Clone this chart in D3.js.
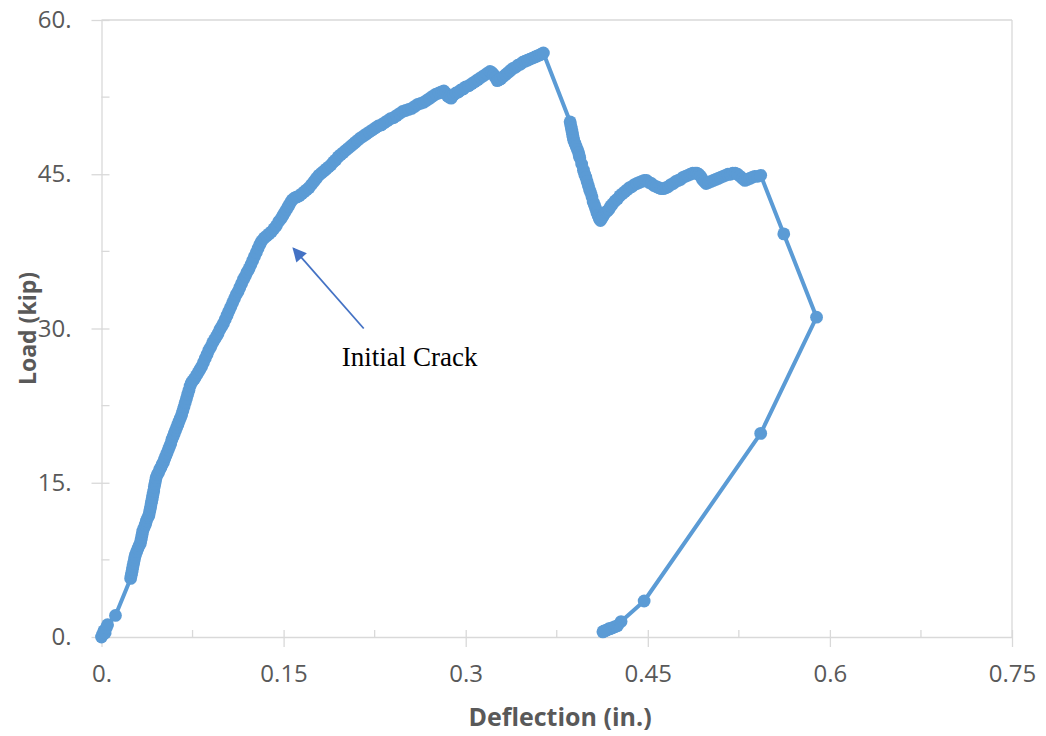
<!DOCTYPE html>
<html>
<head>
<meta charset="utf-8">
<script src="https://cdn.jsdelivr.net/npm/d3@7"></script>
<style>
  html, body { margin: 0; padding: 0; background: #ffffff; }
  svg { display: block; }
</style>
</head>
<body>
<svg id="chart" width="1046" height="736"></svg>
<script>
// Load-deflection test record: deflection (in.) and load (kip)
const deflection = [
  0, 0.001, 0.002, 0.003, 0.004, 0.005, 0.0115, 0.024, 0.0245, 0.025,
  0.0255, 0.026, 0.0265, 0.027, 0.0275, 0.028, 0.029, 0.030, 0.031, 0.032,
  0.0325, 0.033, 0.0335, 0.034, 0.035, 0.036, 0.0365, 0.037, 0.038, 0.039,
  0.0395, 0.040, 0.0405, 0.041, 0.0415, 0.042, 0.0425, 0.043, 0.0435, 0.044,
  0.0445, 0.045, 0.046, 0.047, 0.048, 0.049, 0.050, 0.051, 0.052, 0.053,
  0.054, 0.055, 0.056, 0.057, 0.058, 0.059, 0.060, 0.061, 0.062, 0.063,
  0.064, 0.065, 0.066, 0.067, 0.068, 0.069, 0.070, 0.071, 0.072, 0.073,
  0.074, 0.075, 0.0765, 0.078, 0.0795, 0.081, 0.0825, 0.084, 0.0855, 0.087,
  0.0885, 0.090, 0.0915, 0.093, 0.0945, 0.096, 0.0975, 0.099, 0.1005, 0.102,
  0.1035, 0.105, 0.1065, 0.108, 0.1095, 0.111, 0.1125, 0.114, 0.1155, 0.117,
  0.1185, 0.120, 0.1215, 0.123, 0.1245, 0.126, 0.1275, 0.129, 0.1305, 0.132,
  0.134, 0.136, 0.138, 0.140, 0.142, 0.144, 0.146, 0.148, 0.1495, 0.151,
  0.1525, 0.154, 0.1555, 0.157, 0.159, 0.161, 0.163, 0.165, 0.167, 0.169,
  0.171, 0.173, 0.175, 0.177, 0.179, 0.181, 0.183, 0.185, 0.187, 0.189,
  0.191, 0.193, 0.195, 0.197, 0.199, 0.201, 0.203, 0.205, 0.207, 0.209,
  0.211, 0.213, 0.2155, 0.218, 0.2205, 0.223, 0.2255, 0.228, 0.2305, 0.233,
  0.2355, 0.238, 0.2405, 0.243, 0.2455, 0.248, 0.2505, 0.253, 0.2555, 0.258,
  0.2605, 0.263, 0.2655, 0.268, 0.2705, 0.273, 0.2755, 0.278, 0.280, 0.282,
  0.2835, 0.285, 0.2865, 0.288, 0.290, 0.292, 0.294, 0.296, 0.298, 0.300,
  0.3025, 0.305, 0.3075, 0.310, 0.3125, 0.315, 0.3175, 0.320, 0.3215, 0.323,
  0.3245, 0.326, 0.3275, 0.329, 0.331, 0.333, 0.335, 0.337, 0.339, 0.341,
  0.343, 0.345, 0.347, 0.349, 0.351, 0.353, 0.355, 0.357, 0.359, 0.361,
  0.3625, 0.364,
  0.386, 0.3865, 0.387, 0.3875, 0.388, 0.3885, 0.389, 0.390, 0.391, 0.392,
  0.393, 0.3935, 0.394, 0.3955, 0.397, 0.398, 0.399, 0.400, 0.401, 0.402,
  0.403, 0.404, 0.405, 0.406, 0.407, 0.408, 0.409, 0.410, 0.411, 0.412,
  0.413, 0.414, 0.415, 0.4165, 0.418, 0.4195, 0.421, 0.423, 0.425, 0.427,
  0.429, 0.431, 0.433, 0.435, 0.437, 0.439, 0.441, 0.443, 0.445, 0.447,
  0.449, 0.451, 0.453, 0.455, 0.457, 0.459, 0.461, 0.463, 0.465, 0.467,
  0.469, 0.471, 0.473, 0.475, 0.477, 0.479, 0.481, 0.483, 0.485, 0.487,
  0.489, 0.4905, 0.492, 0.4935, 0.495, 0.4965, 0.498, 0.500, 0.502, 0.504,
  0.506, 0.508, 0.510, 0.512, 0.514, 0.516, 0.518, 0.520, 0.522, 0.524,
  0.526, 0.528, 0.530, 0.532, 0.534, 0.536, 0.538, 0.5405, 0.543,
  0.562, 0.589, 0.543, 0.447, 0.428, 0.425, 0.423, 0.421, 0.419, 0.418,
  0.4165, 0.415, 0.414, 0.413
];
const load = [
  0, 0.3, 0.6, 0.4, 0.9, 1.2, 2.1, 5.7, 6.0, 6.3,
  6.6, 6.9, 7.2, 7.5, 7.8, 8.0, 8.3, 8.6, 8.9, 9.1,
  9.4, 9.7, 10.0, 10.3, 10.6, 10.9, 11.1, 11.3, 11.6, 11.8,
  12.1, 12.4, 12.7, 13.0, 13.3, 13.6, 13.9, 14.2, 14.6, 14.9,
  15.2, 15.5, 15.8, 16.0, 16.3, 16.5, 16.8, 17.0, 17.3, 17.6,
  17.9, 18.2, 18.5, 18.8, 19.2, 19.5, 19.8, 20.1, 20.4, 20.7,
  21.0, 21.3, 21.6, 22.0, 22.4, 22.8, 23.2, 23.6, 24.0, 24.4,
  24.7, 24.9, 25.1, 25.4, 25.7, 26.0, 26.3, 26.7, 27.1, 27.5,
  27.9, 28.2, 28.6, 28.9, 29.2, 29.5, 29.9, 30.2, 30.5, 30.9,
  31.3, 31.7, 32.1, 32.5, 32.9, 33.3, 33.6, 34.0, 34.4, 34.8,
  35.1, 35.5, 35.8, 36.2, 36.6, 37.0, 37.4, 37.8, 38.2, 38.5,
  38.8, 39.0, 39.2, 39.4, 39.7, 40.0, 40.4, 40.7, 41.0, 41.3,
  41.6, 41.9, 42.2, 42.5, 42.7, 42.8, 42.9, 43.1, 43.3, 43.5,
  43.7, 44.0, 44.3, 44.6, 44.9, 45.1, 45.3, 45.5, 45.7, 45.9,
  46.2, 46.4, 46.7, 46.9, 47.1, 47.3, 47.5, 47.7, 47.9, 48.1,
  48.3, 48.5, 48.7, 48.9, 49.1, 49.3, 49.5, 49.7, 49.8, 50.0,
  50.2, 50.4, 50.5, 50.7, 50.9, 51.1, 51.2, 51.3, 51.4, 51.6,
  51.8, 51.9, 52.0, 52.2, 52.4, 52.6, 52.8, 52.9, 53.0, 53.1,
  52.9, 52.6, 52.5, 52.4, 52.7, 52.9, 53.0, 53.2, 53.3, 53.5,
  53.6, 53.8, 54.0, 54.2, 54.4, 54.6, 54.8, 55.0, 54.9, 54.7,
  54.4, 54.1, 54.2, 54.3, 54.5, 54.7, 54.9, 55.1, 55.3, 55.4,
  55.6, 55.7, 55.9, 56.0, 56.1, 56.2, 56.3, 56.4, 56.5, 56.6,
  56.7, 56.8,
  50.1, 49.8, 49.5, 49.2, 48.9, 48.6, 48.3, 48.0, 47.7, 47.4,
  47.1, 46.8, 46.6, 46.0, 45.4, 45.0, 44.7, 44.3, 43.9, 43.5,
  43.2, 42.8, 42.3, 42.0, 41.7, 41.3, 41.0, 40.7, 40.5, 40.7,
  40.9, 41.1, 41.3, 41.4, 41.6, 41.9, 42.1, 42.4, 42.6, 42.9,
  43.1, 43.3, 43.5, 43.7, 43.8, 44.0, 44.1, 44.2, 44.3, 44.4,
  44.4, 44.2, 44.1, 43.9, 43.8, 43.7, 43.6, 43.6, 43.7, 43.8,
  44.0, 44.1, 44.3, 44.4, 44.5, 44.7, 44.8, 44.9, 45.0, 45.1,
  45.1, 45.1, 45.0, 44.8, 44.5, 44.3, 44.1, 44.2, 44.3, 44.4,
  44.5, 44.6, 44.7, 44.8, 44.9, 45.0, 45.0, 45.1, 45.1, 45.0,
  44.8, 44.6, 44.4, 44.5, 44.6, 44.7, 44.8, 44.8, 44.9,
  39.2, 31.1, 19.8, 3.5, 1.5, 1.1, 1.0, 0.9, 0.8, 0.8,
  0.7, 0.6, 0.6, 0.5
];

const xTicks = [0, 0.15, 0.3, 0.45, 0.6, 0.75];
const xTickLabels = ["0.", "0.15", "0.3", "0.45", "0.6", "0.75"];
const xMinorTicks = [0.075, 0.225, 0.375, 0.525, 0.675];
const yTicks = [0, 15, 30, 45, 60];
const yTickLabels = ["0.", "15.", "30.", "45.", "60."];
const yMinorTicks = [7.5, 22.5, 37.5, 52.5];

// Annotation: arrow tail -> head, and label anchor (data units)
const crackArrow = { x1: 0.216, y1: 30.0, x2: 0.158, y2: 37.8 };
const crackLabel = { x: 0.198, y: 26.4, text: "Initial Crack" };

const svg = d3.select("#chart");
const plot = { left: 101.5, right: 1012, top: 20, bottom: 637 };

const x = d3.scaleLinear().domain([0, 0.75]).range([plot.left, plot.right]);
const y = d3.scaleLinear().domain([0, 60]).range([plot.bottom, plot.top]);

const axisColor = "#d9d9d9";
const textColor = "#595959";
const seriesColor = "#5b9bd5";

// plot frame: top and right edges
svg.append("line")
  .attr("x1", plot.left).attr("x2", plot.right)
  .attr("y1", y(60)).attr("y2", y(60))
  .attr("stroke", axisColor).attr("stroke-width", 1.3);
svg.append("line")
  .attr("x1", plot.right).attr("x2", plot.right)
  .attr("y1", y(60)).attr("y2", y(0))
  .attr("stroke", axisColor).attr("stroke-width", 1.3);

// x axis
const xAxis = d3.axisBottom(x)
  .tickValues(xTicks)
  .tickFormat((d, i) => xTickLabels[i])
  .tickSizeInner(10).tickSizeOuter(0).tickPadding(18);
const gx = svg.append("g").attr("transform", `translate(0,${plot.bottom})`).call(xAxis);
gx.select(".domain").attr("stroke", axisColor).attr("stroke-width", 1.3);
gx.selectAll(".tick line").attr("stroke", axisColor).attr("stroke-width", 1.3)
  .attr("y1", -7);
gx.selectAll(".tick text")
  .attr("fill", textColor)
  .style("font-family", "'Open Sans', sans-serif")
  .style("font-size", "24px");
gx.selectAll(".minor").data(xMinorTicks).enter().append("line")
  .attr("class", "minor")
  .attr("x1", d => x(d)).attr("x2", d => x(d))
  .attr("y1", -7).attr("y2", 0)
  .attr("stroke", axisColor).attr("stroke-width", 1.3);

// y axis
const yAxis = d3.axisLeft(y)
  .tickValues(yTicks)
  .tickFormat((d, i) => yTickLabels[i])
  .tickSizeInner(10).tickSizeOuter(0).tickPadding(20);
const gy = svg.append("g").attr("transform", `translate(${plot.left},0)`).call(yAxis);
gy.select(".domain").attr("stroke", axisColor).attr("stroke-width", 1.3);
gy.selectAll(".tick line").attr("stroke", axisColor).attr("stroke-width", 1.3)
  .attr("x2", 8).attr("x1", -10);
gy.selectAll(".tick text")
  .attr("fill", textColor)
  .style("font-family", "'Open Sans', sans-serif")
  .style("font-size", "24px");
gy.selectAll(".minor").data(yMinorTicks).enter().append("line")
  .attr("class", "minor")
  .attr("x1", 0).attr("x2", 8)
  .attr("y1", d => y(d)).attr("y2", d => y(d))
  .attr("stroke", axisColor).attr("stroke-width", 1.3);

// axis titles
svg.append("text")
  .attr("x", 560).attr("y", 726)
  .attr("text-anchor", "middle")
  .attr("fill", textColor)
  .style("font-family", "'Open Sans', sans-serif")
  .style("font-weight", "bold")
  .style("font-size", "25px")
  .text("Deflection (in.)");
svg.append("text")
  .attr("transform", `translate(36,${(plot.top + plot.bottom) / 2}) rotate(-90)`)
  .attr("text-anchor", "middle")
  .attr("fill", textColor)
  .style("font-family", "'Open Sans', sans-serif")
  .style("font-weight", "bold")
  .style("font-size", "23px")
  .text("Load (kip)");

// data series
const pts = deflection.map((d, i) => [d, load[i]]);
const line = d3.line().x(d => x(d[0])).y(d => y(d[1]));
svg.append("path")
  .datum(pts)
  .attr("d", line)
  .attr("fill", "none")
  .attr("stroke", seriesColor)
  .attr("stroke-width", 4)
  .attr("stroke-linejoin", "round");
svg.append("g").selectAll("circle").data(pts).enter().append("circle")
  .attr("cx", d => x(d[0])).attr("cy", d => y(d[1]))
  .attr("r", 6.4)
  .attr("fill", seriesColor);

// annotation arrow and label
const defs = svg.append("defs");
defs.append("marker")
  .attr("id", "arrowHead")
  .attr("viewBox", "0 0 10 10")
  .attr("refX", 9).attr("refY", 5)
  .attr("markerUnits", "userSpaceOnUse")
  .attr("orient", "auto")
  .attr("markerWidth", 18).attr("markerHeight", 14)
  .append("path").attr("d", "M0,0 L10,5 L0,10 z").attr("fill", "#4472c4");
svg.append("line")
  .attr("x1", x(crackArrow.x1)).attr("y1", y(crackArrow.y1))
  .attr("x2", x(crackArrow.x2)).attr("y2", y(crackArrow.y2))
  .attr("stroke", "#4472c4").attr("stroke-width", 1.8)
  .attr("marker-end", "url(#arrowHead)");
svg.append("text")
  .attr("x", x(crackLabel.x)).attr("y", y(crackLabel.y))
  .attr("fill", "#000000")
  .style("font-family", "'Liberation Serif', 'Times New Roman', serif")
  .style("font-size", "27px")
  .text(crackLabel.text);
</script>
</body>
</html>
